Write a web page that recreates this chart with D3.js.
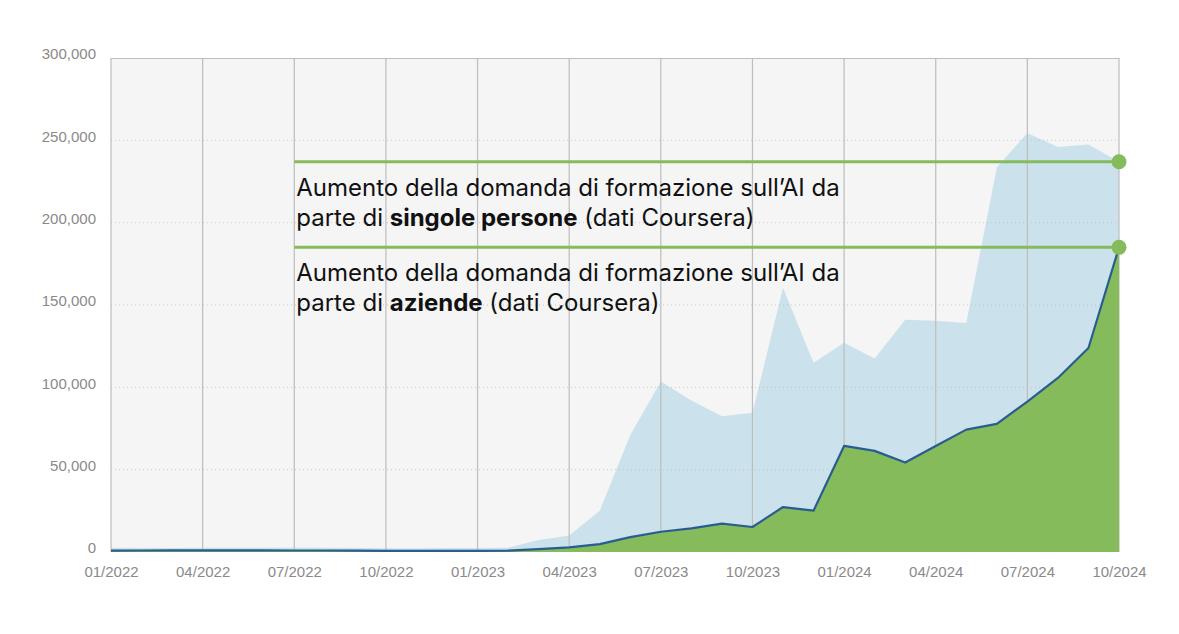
<!DOCTYPE html>
<html lang="it">
<head>
<meta charset="utf-8">
<title>Domanda di formazione sull'AI (dati Coursera)</title>
<script src="https://cdn.jsdelivr.net/npm/d3@7"></script>
<style>
    body { margin: 0; background: #fff; }
    .axis text { font-family: "Liberation Sans", Arial, sans-serif; font-size: 15px; fill: #8a8a8a; }
    .annotation text { font-family: Inter, "Noto Sans", sans-serif; font-size: 24px; fill: #111; }
</style>
</head>
<body>
<div id="chartWrap"></div>
<script>
'use strict'

// months on the x axis (one point per month)
const months = [
    '01/2022', '02/2022', '03/2022', '04/2022', '05/2022', '06/2022',
    '07/2022', '08/2022', '09/2022', '10/2022', '11/2022', '12/2022',
    '01/2023', '02/2023', '03/2023', '04/2023', '05/2023', '06/2023',
    '07/2023', '08/2023', '09/2023', '10/2023', '11/2023', '12/2023',
    '01/2024', '02/2024', '03/2024', '04/2024', '05/2024', '06/2024',
    '07/2024', '08/2024', '09/2024', '10/2024'
];

// singole persone (light blue area)
const persone = [
    2600, 2500, 2500, 2600, 2600, 2600,
    2700, 2600, 2400, 2300, 2300, 2400,
    2400, 2600, 7300, 10000, 25000, 71000,
    103500, 92000, 82500, 84600, 160500, 115000,
    127000, 117500, 141000, 140500, 139000, 233500,
    254500, 246000, 247500, 237000
];

// aziende (green area + dark line)
const aziende = [
    800, 900, 1000, 1000, 1000, 1000,
    900, 900, 800, 700, 700, 700,
    700, 800, 1800, 2800, 4800, 9000,
    12300, 14400, 17200, 15200, 27300, 25100,
    64400, 61400, 54300, 64400, 74300, 77800,
    91300, 105700, 123900, 185000
];

const xTicks = ['01/2022', '04/2022', '07/2022', '10/2022', '01/2023', '04/2023',
    '07/2023', '10/2023', '01/2024', '04/2024', '07/2024', '10/2024'];
const yTicks = [0, 50000, 100000, 150000, 200000, 250000, 300000];

const annotations = [
    { series: persone, before: 'parte di ', bold: 'singole persone', after: ' (dati Coursera)' },
    { series: aziende, before: 'parte di ', bold: 'aziende', after: ' (dati Coursera)' }
];

const svgWidth = 1179,
    svgHeight = 634,
    margin = { top: 58, right: 60, bottom: 82, left: 111 },
    chartWidth = svgWidth - margin.left - margin.right,
    chartHeight = svgHeight - margin.top - margin.bottom;

const colors = {
    plotBg: '#f5f5f5',
    persone: '#cbe2ec',
    aziende: '#86bb5c',
    line: '#2a5d8f',
    grid: '#bdbdbd',
    annot: '#86bb5c'
};

const svg = d3.select('#chartWrap')
    .append('svg')
    .attr('width', svgWidth)
    .attr('height', svgHeight);

const chart = svg.append('g')
    .attr('transform', `translate(${margin.left},${margin.top})`);

const x = d3.scalePoint()
    .domain(months)
    .range([0, chartWidth]);

const y = d3.scaleLinear()
    .domain([0, 300000])
    .range([chartHeight, 0]);

// plot background
chart.append('rect')
    .attr('width', chartWidth)
    .attr('height', chartHeight)
    .attr('fill', colors.plotBg);

// singole persone area
const areaFor = series => d3.area()
    .x((d, i) => x(months[i]))
    .y0(y(0))
    .y1(d => y(d))(series);

chart.append('path')
    .attr('d', areaFor(persone))
    .attr('fill', colors.persone);

// horizontal dotted grid
chart.append('g')
    .selectAll('line')
    .data(yTicks.filter(d => d > 0 && d < 300000))
    .join('line')
    .attr('x1', 0)
    .attr('x2', chartWidth)
    .attr('y1', d => y(d))
    .attr('y2', d => y(d))
    .attr('stroke', colors.grid)
    .attr('stroke-width', 1)
    .attr('stroke-dasharray', '1,3')
    .attr('opacity', 0.8);

// vertical grid, every three months
chart.append('g')
    .selectAll('line')
    .data(xTicks)
    .join('line')
    .attr('x1', d => x(d))
    .attr('x2', d => x(d))
    .attr('y1', 0)
    .attr('y2', chartHeight)
    .attr('stroke', colors.grid)
    .attr('stroke-width', 1.2);

// top border
chart.append('line')
    .attr('x1', 0)
    .attr('x2', chartWidth)
    .attr('y1', 0.5)
    .attr('y2', 0.5)
    .attr('stroke', colors.grid)
    .attr('stroke-width', 1.2);

// aziende area + line
chart.append('path')
    .attr('d', areaFor(aziende))
    .attr('fill', colors.aziende);

chart.append('path')
    .attr('d', d3.line().x((d, i) => x(months[i])).y(d => y(d))(aziende))
    .attr('fill', 'none')
    .attr('stroke', colors.line)
    .attr('stroke-width', 2.2)
    .attr('stroke-linejoin', 'round');

// axes
const xAxis = chart.append('g')
    .attr('class', 'axis')
    .attr('transform', `translate(0,${chartHeight})`)
    .call(d3.axisBottom(x).tickValues(xTicks).tickSize(0).tickPadding(14));
xAxis.select('.domain').remove();

const yAxis = chart.append('g')
    .attr('class', 'axis')
    .call(d3.axisLeft(y).tickValues(yTicks).tickSize(0).tickPadding(15).tickFormat(d3.format(',')));
yAxis.select('.domain').remove();
yAxis.selectAll('text').attr('dy', '0.05em');

// annotations with markers on the last value
const startX = x('07/2022');
const lastMonth = months[months.length - 1];

const annot = chart.append('g').attr('class', 'annotation');

annotations.forEach(a => {
    const ly = y(a.series[a.series.length - 1]);
    annot.append('line')
        .attr('x1', startX)
        .attr('x2', x(lastMonth))
        .attr('y1', ly)
        .attr('y2', ly)
        .attr('stroke', colors.annot)
        .attr('stroke-width', 3);
    annot.append('circle')
        .attr('cx', x(lastMonth))
        .attr('cy', ly)
        .attr('r', 7.5)
        .attr('fill', colors.annot);

    annot.append('text')
        .attr('x', startX + 2)
        .attr('y', ly + 34)
        .text('Aumento della domanda di formazione sull\u2019AI da');

    const t2 = annot.append('text')
        .attr('x', startX + 2)
        .attr('y', ly + 64);
    t2.append('tspan').text(a.before);
    t2.append('tspan').attr('font-weight', 700).text(a.bold);
    t2.append('tspan').text(a.after);
});
</script>
</body>
</html>
